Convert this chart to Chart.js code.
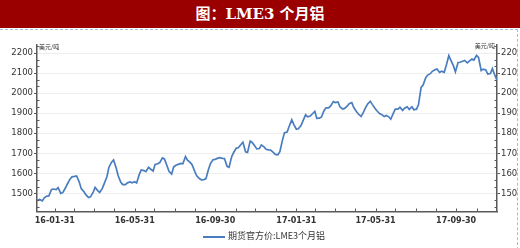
<!DOCTYPE html>
<html>
<head>
<meta charset="utf-8">
<script src="https://cdn.jsdelivr.net/npm/chart.js@4"></script>
<style>
  body { margin: 0; width: 520px; height: 248px; background: #fff; position: relative; overflow: hidden; }
  #banner { position: absolute; left: 0; top: 0; width: 520px; height: 28px; background: #9a0000;
    color: #fff; font: bold 15px "DejaVu Serif", "Noto Sans CJK SC", serif; text-align: center; line-height: 28px; }
  #frame { position: absolute; left: 0; top: 29px; width: 517px; height: 230px;
    border-top: 1px dashed #9cc0e8; border-right: 1px dashed #9cc0e8; }
  #wrap { position: absolute; left: 0; top: 30px; width: 517px; height: 200px; overflow: hidden; }
  #legend { position: absolute; left: 203px; top: 229px; font: 9px "Noto Sans CJK SC", sans-serif; color: #333; }
  #legend i { display: inline-block; width: 22px; height: 2px; background: #4a7dbf; vertical-align: middle; margin-right: 3px; }
</style>
</head>
<body>
<div id="banner">图：LME3 个月铝</div>
<div id="frame"></div>
<div id="wrap"><canvas id="lme" width="540" height="200"></canvas></div>
<div id="legend"><i></i>期货官方价:LME3个月铝</div>
<script>
const seriesName = "期货官方价:LME3个月铝";
const unit = "美元/吨";

// sampled twice a week (Tue / Fri)
const dates = [
  "16-01-04","16-01-08","16-01-12","16-01-15","16-01-19","16-01-22","16-01-26","16-01-29",
  "16-02-02","16-02-05","16-02-09","16-02-12","16-02-16","16-02-19","16-02-23","16-02-26",
  "16-03-01","16-03-04","16-03-08","16-03-11","16-03-15","16-03-18","16-03-22","16-03-25",
  "16-03-29","16-04-01","16-04-05","16-04-08","16-04-12","16-04-15","16-04-19","16-04-22",
  "16-04-26","16-04-29","16-05-03","16-05-06","16-05-10","16-05-13","16-05-17","16-05-20",
  "16-05-24","16-05-27","16-05-31","16-06-03","16-06-07","16-06-10","16-06-14","16-06-17",
  "16-06-21","16-06-24","16-06-28","16-07-01","16-07-05","16-07-08","16-07-12","16-07-15",
  "16-07-19","16-07-22","16-07-26","16-07-29","16-08-02","16-08-05","16-08-09","16-08-12",
  "16-08-16","16-08-19","16-08-23","16-08-26","16-08-30","16-09-02","16-09-06","16-09-09",
  "16-09-13","16-09-16","16-09-20","16-09-23","16-09-27","16-09-30","16-10-04","16-10-07",
  "16-10-11","16-10-14","16-10-18","16-10-21","16-10-25","16-10-28","16-11-01","16-11-04",
  "16-11-08","16-11-11","16-11-15","16-11-18","16-11-22","16-11-25","16-11-29","16-12-02",
  "16-12-06","16-12-09","16-12-13","16-12-16","16-12-20","16-12-23","16-12-27","16-12-30",
  "17-01-03","17-01-06","17-01-10","17-01-13","17-01-17","17-01-20","17-01-24","17-01-27",
  "17-01-31","17-02-03","17-02-07","17-02-10","17-02-14","17-02-17","17-02-21","17-02-24",
  "17-02-28","17-03-03","17-03-07","17-03-10","17-03-14","17-03-17","17-03-21","17-03-24",
  "17-03-28","17-03-31","17-04-04","17-04-07","17-04-11","17-04-14","17-04-18","17-04-21",
  "17-04-25","17-04-28","17-05-02","17-05-05","17-05-09","17-05-12","17-05-16","17-05-19",
  "17-05-23","17-05-26","17-05-30","17-06-02","17-06-06","17-06-09","17-06-13","17-06-16",
  "17-06-20","17-06-23","17-06-27","17-06-30","17-07-04","17-07-07","17-07-11","17-07-14",
  "17-07-18","17-07-21","17-07-25","17-07-28","17-08-01","17-08-04","17-08-08","17-08-11",
  "17-08-15","17-08-18","17-08-22","17-08-25","17-08-29","17-09-01","17-09-05","17-09-08",
  "17-09-12","17-09-15","17-09-19","17-09-22","17-09-26","17-09-29","17-10-03","17-10-06",
  "17-10-10","17-10-13","17-10-17","17-10-20","17-10-24","17-10-27","17-10-31","17-11-03",
  "17-11-07","17-11-10","17-11-14","17-11-17","17-11-21","17-11-24","17-11-28","17-12-01"
];

const prices = [
  1465, 1470, 1463, 1478, 1487, 1488, 1520, 1522,
  1519, 1529, 1500, 1504, 1527, 1547, 1571, 1583,
  1585, 1587, 1557, 1524, 1509, 1494, 1480, 1483,
  1505, 1530, 1514, 1505, 1525, 1550, 1583, 1631,
  1656, 1667, 1627, 1588, 1556, 1544, 1544, 1553,
  1557, 1553, 1558, 1552, 1595, 1617, 1614, 1609,
  1630, 1622, 1612, 1645, 1648, 1654, 1677, 1672,
  1638, 1610, 1596, 1632, 1642, 1645, 1650, 1648,
  1684, 1666, 1655, 1643, 1610, 1588, 1574, 1568,
  1569, 1574, 1622, 1650, 1669, 1670, 1676, 1678,
  1675, 1674, 1635, 1630, 1684, 1704, 1726, 1728,
  1744, 1755, 1708, 1705, 1761, 1754, 1737, 1722,
  1724, 1742, 1732, 1720, 1717, 1716, 1705, 1695,
  1693, 1708, 1767, 1803, 1806, 1834, 1867, 1844,
  1820, 1822, 1838, 1862, 1892, 1882, 1886, 1896,
  1909, 1874, 1875, 1881, 1914, 1927, 1927, 1936,
  1958, 1953, 1956, 1932, 1921, 1924, 1935, 1947,
  1953, 1928, 1909, 1896, 1884, 1900, 1929, 1946,
  1959, 1944, 1925, 1912, 1898, 1894, 1884, 1889,
  1882, 1870, 1900, 1920, 1920, 1930, 1914, 1925,
  1932, 1919, 1932, 1917, 1920, 1942, 2029, 2040,
  2077, 2090, 2097, 2109, 2117, 2120, 2103, 2109,
  2104, 2137, 2187, 2165, 2136, 2106, 2153, 2154,
  2159, 2163, 2151, 2160, 2170, 2165, 2188, 2178,
  2113, 2120, 2116, 2095, 2098, 2122, 2087, 2065
];

const xTickLabels = ["16-01-31", "16-05-31", "16-09-30", "17-01-31", "17-05-31", "17-09-30"];
const monthEnds = [
  "16-01-31","16-02-29","16-03-31","16-04-30","16-05-31","16-06-30","16-07-31","16-08-31",
  "16-09-30","16-10-31","16-11-30","16-12-31","17-01-31","17-02-28","17-03-31","17-04-30",
  "17-05-31","17-06-30","17-07-31","17-08-31","17-09-30","17-10-31","17-11-30"
];
const yTicks = [1500, 1600, 1700, 1800, 1900, 2000, 2100, 2200];
const yMin = 1410, yMax = 2240;

function day(s) {
  const p = s.split("-").map(Number);
  return Date.UTC(2000 + p[0], p[1] - 1, p[2]) / 86400000;
}

const lineColor = "#4a7dbf";
const axisColor = "#595959";

// small inward ticks: month ends on x, thirds on y
const minorTicks = {
  id: "minorTicks",
  afterDraw(chart) {
    const { ctx, scales } = chart;
    const x = scales.x, y = scales.y;
    ctx.save();
    ctx.strokeStyle = axisColor;
    ctx.lineWidth = 1;
    ctx.beginPath();
    monthEnds.forEach(d => {
      const px = Math.round(x.getPixelForValue(day(d))) + 0.5;
      ctx.moveTo(px, y.bottom);
      ctx.lineTo(px, y.bottom - 3);
    });
    for (let v = yTicks[0] - 200 / 3; v < yMax; v += 100 / 3) {
      if (v < yMin || yTicks.some(t => Math.abs(t - v) < 1)) continue;
      const py = Math.round(y.getPixelForValue(v)) + 0.5;
      ctx.moveTo(x.left, py); ctx.lineTo(x.left + 2.5, py);
      ctx.moveTo(x.right, py); ctx.lineTo(x.right - 2.5, py);
    }
    ctx.stroke();
    ctx.fillStyle = "#333";
    ctx.font = '6px "Noto Sans CJK SC"';
    ctx.textBaseline = "middle";
    ctx.textAlign = "left";
    ctx.fillText(unit, x.left + 2, y.top + 2);
    ctx.textAlign = "right";
    ctx.fillText(unit, x.right - 2, y.top + 1);
    ctx.restore();
  }
};

const yAxis = (pos, width, grid) => ({
  type: "linear",
  position: pos,
  min: yMin,
  max: yMax,
  afterBuildTicks: s => { s.ticks = yTicks.map(v => ({ value: v })); },
  afterFit: s => { s.width = width; },
  grid: grid,
  border: { display: true, color: axisColor, width: 1.5 },
  ticks: {
    color: "#333",
    padding: 1,
    font: { family: "DejaVu Sans", size: 8.5 },
    callback: v => String(v)
  }
});

new Chart(document.getElementById("lme"), {
  type: "line",
  data: {
    datasets: [{
      label: seriesName,
      data: dates.map((d, i) => ({ x: day(d), y: prices[i] })),
      borderColor: lineColor,
      borderWidth: 1.7,
      pointRadius: 0,
      tension: 0,
      yAxisID: "y"
    }]
  },
  plugins: [minorTicks],
  options: {
    responsive: false,
    animation: false,
    layout: { padding: { top: 15, left: 0, right: 0, bottom: 0 } },
    plugins: { legend: { display: false }, tooltip: { enabled: false } },
    scales: {
      x: {
        type: "linear",
        min: day(dates[0]),
        max: day(dates[dates.length - 1]),
        afterBuildTicks: s => { s.ticks = xTickLabels.map(d => ({ value: day(d) })); },
        afterFit: s => { s.height = 18.5; },
        grid: { display: false, drawTicks: false },
        border: { display: true, color: axisColor, width: 1.5 },
        ticks: {
          color: "#333",
          padding: 5,
          maxRotation: 0,
          autoSkip: false,
          font: { family: "DejaVu Sans", size: 8, weight: "bold" },
          callback: v => xTickLabels[xTickLabels.findIndex(d => day(d) === v)]
        }
      },
      y: yAxis("left", 37, { color: "#eeeeee", lineWidth: 1, tickColor: axisColor, tickLength: 3 }),
      y2: yAxis("right", 43, { drawOnChartArea: false, tickColor: axisColor, tickLength: 3 })
    }
  }
});
</script>
</body>
</html>
